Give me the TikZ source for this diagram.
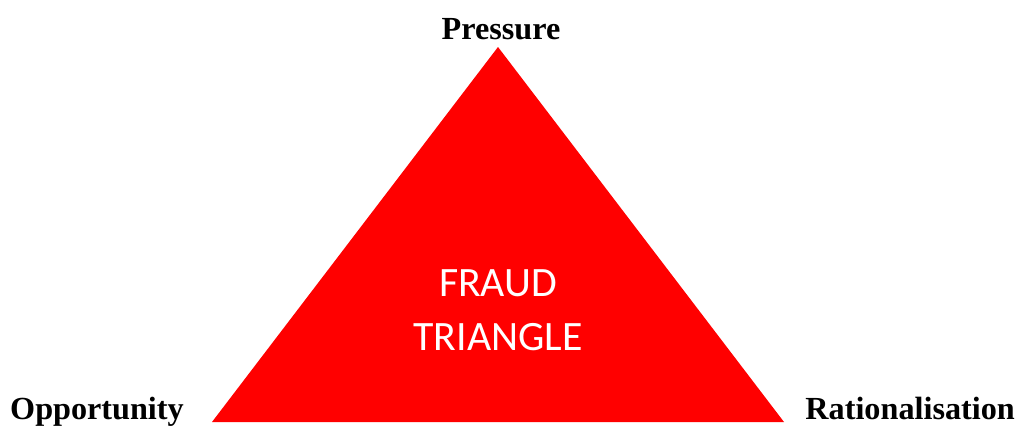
\documentclass[tikz,border=0pt]{standalone}
\usepackage{fontspec}
\setmainfont{Liberation Serif}
\newfontfamily\carlito{Carlito}
\definecolor{fraudred}{RGB}{255,0,0}
\begin{document}
\begin{tikzpicture}[x=1pt,y=-1pt,
  corner/.style={inner sep=0pt,font=\fontsize{32.2}{36}\selectfont\bfseries},
  tri/.style={fill=fraudred,draw=none}]
\useasboundingbox (0,0) rectangle (1018,429);
\coordinate (apex) at (498,47);
\coordinate (bl) at (212,422);
\coordinate (br) at (784,422);
\fill[tri] (apex) -- (bl) -- (br) -- cycle;
\node[corner,anchor=base] (pressure) at (501,39) {Pressure};
\node[corner,anchor=base west] (opportunity) at (10,419) {Opportunity};
\node[corner,anchor=base east] (rational) at (1015,419) {Rationalisation};
\node[inner sep=0pt,anchor=base,text=white,font=\carlito\fontsize{41.8}{54}\selectfont,align=center] (center) at (498,350) {FRAUD\\TRIANGLE};
\end{tikzpicture}
\end{document}
